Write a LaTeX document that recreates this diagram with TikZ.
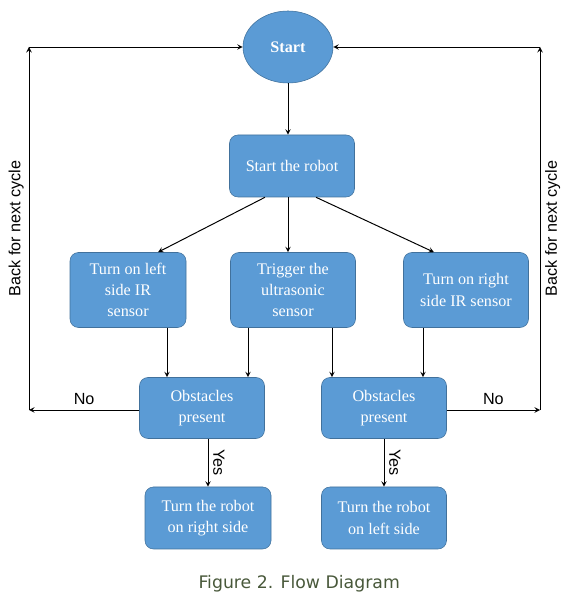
\documentclass[tikz,border=0pt]{standalone}
\usepackage{fontspec}
\setmainfont{Liberation Serif}
\setsansfont{Liberation Sans}
\newfontfamily\captionfont{DejaVu Sans}
\usepackage{xcolor}
\usepackage{tikz}
\usetikzlibrary{shapes.geometric}

\definecolor{boxblue}{RGB}{91,155,213}
\definecolor{boxedge}{RGB}{65,113,156}
\definecolor{capgreen}{RGB}{72,88,58}

\begin{document}
\begin{tikzpicture}[
        box/.style={rectangle, rounded corners=6pt, draw=boxedge, fill=boxblue, text=white, minimum width=3.125cm, minimum height=1.55cm, align=center, font=\fontsize{11.5}{15}\selectfont, inner sep=1pt},
        arrow/.style={->, >=stealth, line width=0.7pt},
        lbl/.style={font=\sffamily\fontsize{11.5}{13}\selectfont, text=black}
    ]
    \useasboundingbox (0,0) rectangle (14.4,15);

    % Start
    \node[ellipse, draw=boxedge, fill=boxblue, text=white, minimum width=2.25cm, minimum height=1.8cm, font=\bfseries\fontsize{11.5}{13}\selectfont] (start) at (7.2, 13.825) {Start};
    \node[box] (robot) at (7.3, 10.85) {Start the robot};

    % Sensors
    \node[box, minimum width=2.9cm, minimum height=1.875cm] (leftir) at (3.2, 7.75) {Turn on left\\side IR\\sensor};
    \node[box, minimum height=1.875cm] (ultra) at (7.325, 7.75) {Trigger the\\ultrasonic\\sensor};
    \node[box, minimum height=1.875cm] (rightir) at (11.65, 7.75) {Turn on right\\side IR sensor};

    % Decisions
    \node[box, minimum height=1.525cm] (obsl) at (5.05, 4.8) {Obstacles\\present};
    \node[box, minimum height=1.525cm] (obsr) at (9.6, 4.8) {Obstacles\\present};

    % Turning
    \node[box, minimum width=3.15cm] (turnr) at (5.2, 2.05) {Turn the robot\\on right side};
    \node[box] (turnl) at (9.6, 2.05) {Turn the robot\\on left side};

    % Caption
    \node[font=\captionfont\fontsize{12.3}{14}\selectfont, text=capgreen] (caption) at (7.48, 0.4) {Figure 2. Flow Diagram};

    % Loop corners
    \coordinate (lb) at (0.725, 4.75);
    \coordinate (lt) at (0.725, 13.825);
    \coordinate (rb) at (13.5, 4.75);
    \coordinate (rt) at (13.5, 13.825);

    % Arrows
    \draw[arrow] (start.south) -- (start.south |- robot.north);
    \draw[arrow] ([xshift=-0.675cm]robot.south) -- ([xshift=0.75cm]leftir.north);
    \draw[arrow] ([xshift=-0.1cm]robot.south) -- ([xshift=-0.1cm]robot.south |- ultra.north);
    \draw[arrow] ([xshift=0.6cm]robot.south) -- ([xshift=-0.8cm]rightir.north);

    \draw[arrow] ([xshift=0.975cm]leftir.south) -- ([xshift=0.975cm]leftir.south |- obsl.north);
    \draw[arrow] ([xshift=-1.125cm]ultra.south) -- ([xshift=-1.125cm]ultra.south |- obsl.north);
    \draw[arrow] ([xshift=0.975cm]ultra.south) -- ([xshift=0.975cm]ultra.south |- obsr.north);
    \draw[arrow] ([xshift=-1.075cm]rightir.south) -- ([xshift=-1.075cm]rightir.south |- obsr.north);

    \draw[arrow] (obsl.west |- lb) -- node[lbl, above] {No} (lb);
    \draw[arrow] (lb) -- node[lbl, above, rotate=90] {Back for next cycle} (lt);
    \draw[arrow] (lt) -- (start.west);
    \draw[arrow] (obsr.east |- rb) -- node[lbl, above] {No} (rb);
    \draw[arrow] (rb) -- node[lbl, below, rotate=90] {Back for next cycle} (rt);
    \draw[arrow] (rt) -- (start.east);

    \draw[arrow] ([xshift=0.15cm]obsl.south) -- node[lbl, above, rotate=-90] {Yes} ([xshift=0.15cm]obsl.south |- turnr.north);
    \draw[arrow] (obsr.south) -- node[lbl, above, rotate=-90] {Yes} (obsr.south |- turnl.north);

    \end{tikzpicture}
\end{document}
